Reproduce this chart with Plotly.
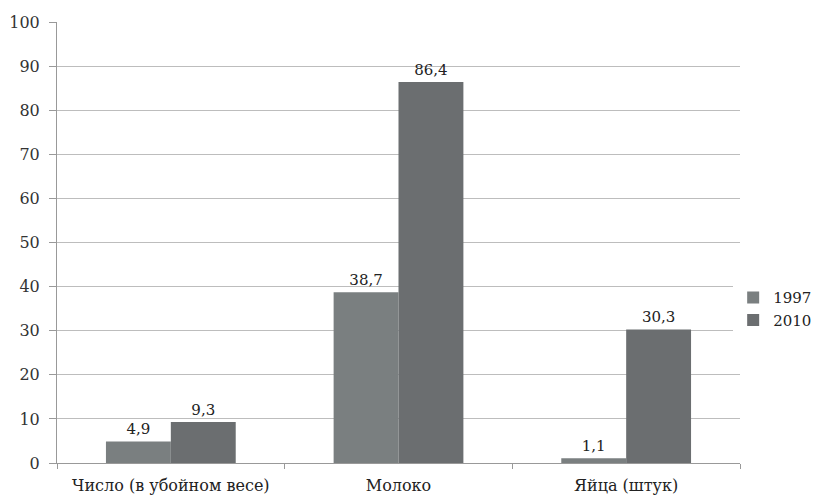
import plotly.graph_objects as go

categories = ["Число (в убойном весе)", "Молоко", "Яйца (штук)"]
series_names = ["1997", "2010"]
values_1997 = [4.9, 38.7, 1.1]
values_2010 = [9.3, 86.4, 30.3]
labels_1997 = ["4,9", "38,7", "1,1"]
labels_2010 = ["9,3", "86,4", "30,3"]
y_ticks = [0, 10, 20, 30, 40, 50, 60, 70, 80, 90, 100]

font_family = "DejaVu Serif"

fig = go.Figure()
fig.add_trace(go.Bar(
    x=categories, y=values_1997, name=series_names[0],
    marker=dict(color="#7a7f80", line=dict(width=0)),
    text=labels_1997, textposition="outside",
    textfont=dict(family=font_family, size=15, color="#222222"),
    cliponaxis=False,
))
fig.add_trace(go.Bar(
    x=categories, y=values_2010, name=series_names[1],
    marker=dict(color="#6b6e70", line=dict(width=0)),
    text=labels_2010, textposition="outside",
    textfont=dict(family=font_family, size=15, color="#222222"),
    cliponaxis=False,
))

fig.update_layout(
    width=831, height=502,
    margin=dict(l=49, r=99, t=14, b=47, autoexpand=False),
    paper_bgcolor="white", plot_bgcolor="white",
    barmode="group", bargap=0.43, bargroupgap=0,
    font=dict(family=font_family, size=15, color="#222222"),
    legend=dict(
        x=0.99, y=0.35, xanchor="left", yanchor="middle",
        font=dict(family=font_family, size=15, color="#222222"),
        itemwidth=30, tracegroupgap=2,
    ),
    showlegend=True,
)
fig.update_xaxes(
    showline=True, linecolor="#999999", linewidth=1,
    ticks="outside", tickson="boundaries", ticklen=5, tickcolor="#999999",
    tickfont=dict(family=font_family, size=16, color="#222222"),
    ticklabelstandoff=8,
    showgrid=False, automargin=False,
)
fig.update_yaxes(
    range=[0, 100], tickvals=y_ticks,
    showline=True, linecolor="#999999", linewidth=1,
    ticks="outside", ticklen=7, tickcolor="#999999",
    ticklabelstandoff=6,
    showgrid=True, gridcolor="#bdbdbd", gridwidth=1,
    zeroline=False, automargin=False,
    tickfont=dict(family=font_family, size=16, color="#333333"),
)

fig.write_html("out.html")
